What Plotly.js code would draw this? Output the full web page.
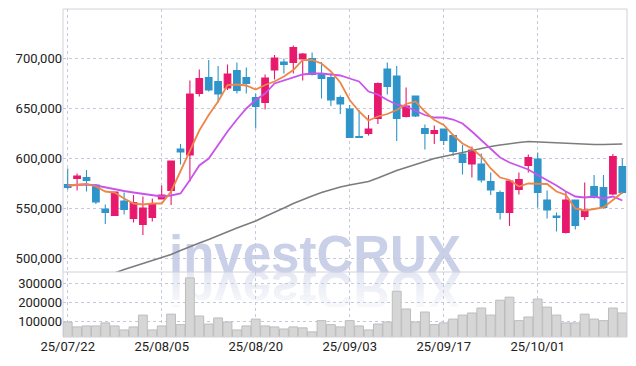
<!DOCTYPE html>
<html><head><meta charset="utf-8">
<script src="https://cdn.plot.ly/plotly-3.0.1.min.js"></script>
<style>
html,body{margin:0;padding:0;background:#fff;}
#wrap{position:relative;width:636px;height:366px;overflow:hidden;}
#chart{position:absolute;left:0;top:0;width:636px;height:366px;}
.wm{position:absolute;left:-3px;width:636px;text-align:center;font-family:"Liberation Sans",Arial,sans-serif;font-weight:bold;font-size:51px;line-height:35px;height:35px;color:#c9d0e7;white-space:nowrap;}
#wm1{top:237px;}
#wm2{top:272px;transform:scaleY(-1);opacity:0.5;-webkit-mask-image:linear-gradient(to top,rgba(0,0,0,1) 0%,rgba(0,0,0,0.25) 100%);}
</style></head>
<body>
<div id="wrap">
<div id="wm1" class="wm">investCRUX</div>
<div id="wm2" class="wm">investCRUX</div>
<div id="chart"></div>
</div>
<script>
const dates = ['25/07/22','25/07/23','25/07/24','25/07/25','25/07/28','25/07/29','25/07/30','25/07/31','25/08/01','25/08/04',
'25/08/05','25/08/06','25/08/07','25/08/08','25/08/11','25/08/12','25/08/13','25/08/14','25/08/18','25/08/19',
'25/08/20','25/08/21','25/08/22','25/08/25','25/08/26','25/08/27','25/08/28','25/08/29','25/09/01','25/09/02',
'25/09/03','25/09/04','25/09/05','25/09/08','25/09/09','25/09/10','25/09/11','25/09/12','25/09/15','25/09/16',
'25/09/17','25/09/18','25/09/19','25/09/22','25/09/23','25/09/24','25/09/25','25/09/26','25/09/29','25/09/30',
'25/10/01','25/10/02','25/10/10','25/10/13','25/10/14','25/10/15','25/10/16','25/10/17','25/10/20','25/10/21'];

const openP = [574000,580000,581000,573500,549500,543000,557500,540000,534000,541000,
559500,568000,609500,603500,665000,681000,677000,670500,688000,681000,
661000,656000,688500,696500,696000,699500,700000,685000,681000,661000,
649500,622000,625000,640000,689500,682500,642000,662500,630000,625000,
629500,623000,604500,594500,594500,577000,566000,546000,569000,593000,
599500,558500,542500,526000,558500,542000,572000,571000,564500,592000];
const highP = [590000,585000,588500,574500,554000,567000,566000,563500,562000,560000,
573000,598000,614500,678000,689000,698500,692500,694000,696000,691000,
665000,684000,703500,700000,713000,705500,706000,696500,685000,663000,
653500,648500,643500,676000,696000,692500,671000,663000,634000,633000,
630000,624000,613500,612000,605000,586000,568000,579000,586000,604000,
606000,568000,546000,567000,558500,576000,583500,583500,604500,600000];
const lowP = [569000,568000,567000,554500,534500,542500,544000,536000,523500,537000,
559000,553500,594000,577000,662000,667000,656000,668500,665000,665000,
630000,649000,679000,685000,685000,678000,683000,660000,652500,644500,
620500,620500,623000,634500,664000,617500,641000,641500,609000,614500,
613500,602500,584000,581000,576000,563500,539000,532500,564000,586000,
551000,540000,527000,525000,529000,538500,560000,550000,563500,564500];
const closeP = [571000,582500,578000,556500,546000,566500,549000,556000,550500,555000,
563500,597500,606500,664500,680000,668500,664500,684500,668000,675000,
652000,680500,700500,694000,711000,704500,684000,680000,658500,654500,
621000,621000,629500,675000,672000,640000,652500,642500,625000,628000,
618000,607000,596000,608500,578500,568500,546000,577500,579000,601000,
566000,548500,541000,558500,533000,548500,561000,551000,602000,566000];

const ma5 = [573000,574000,574500,572000,567000,566000,560000,555000,554000,555000,
555000,567000,587000,608500,628000,643500,657000,673500,674000,673000,
669000,673500,677000,682000,688500,698500,698500,695000,687000,676000,
658500,647000,638000,642000,644500,648500,654500,657000,647000,638500,
633500,623500,615000,610000,602000,590000,581000,578500,572000,575000,
575000,574500,567000,563500,550000,548000,549500,551000,558500,566000];
const ma20 = [573000,573500,574000,573000,571000,569000,567500,566000,564500,563000,
562000,563000,565000,578500,593000,600000,613500,627000,639000,650000,
658500,665000,675000,678000,681000,684000,685000,685000,684000,683000,
680000,677000,667000,664000,658500,654000,652000,648000,643500,641000,
641000,639000,635000,627000,618500,610000,601000,596000,592500,589000,
583500,578500,573000,567000,562000,561000,562000,560000,562000,558000];
const ma60 = [470000,473000,476000,479000,482000,485500,489000,492000,495000,498000,
501000,504000,508000,512000,515500,519000,523000,527000,530500,534000,
537500,542000,546000,550500,555000,559000,562500,566000,569000,571500,
573500,575500,577000,580500,584500,588000,591000,594000,597000,600000,
602000,604000,606000,608000,610500,612000,613500,615000,616000,617000,
616500,616000,616000,615500,615000,614500,614000,614000,614500,614500];

const volume = [97000,71000,76000,76000,92000,76000,55000,71000,133000,55000,
76000,138000,83000,328000,128000,86000,118000,97000,55000,76000,
112000,76000,71000,60000,71000,66000,45000,104000,83000,71000,
104000,76000,55000,86000,97000,258000,165000,97000,149000,83000,
92000,112000,133000,144000,170000,133000,211000,227000,104000,123000,
217000,175000,133000,92000,92000,138000,112000,104000,170000,144000];

const priceTicks = [500000,550000,600000,650000,700000];
const volTicks = [100000,200000,300000];
const xTickIdx = [0,10,20,30,40,50];

const RED = '#e8196c', BLUE = '#2f94c9';
const gridC = '#c6c8dc';
const fontF = 'Roboto, "Liberation Sans", Arial, sans-serif';
const split = 65/328;

const traces = [
  {type:'bar', x:dates, y:volume, xaxis:'x', yaxis:'y2',
   marker:{color:'#d6d6d6', line:{color:'#bdbdbd', width:1}}, hoverinfo:'skip'},
  {type:'candlestick', x:dates, open:openP, high:highP, low:lowP, close:closeP, xaxis:'x', yaxis:'y',
   increasing:{line:{color:RED, width:1.1}, fillcolor:RED},
   decreasing:{line:{color:BLUE, width:1.1}, fillcolor:BLUE},
   whiskerwidth:0},
  {type:'scatter', mode:'lines', x:dates, y:ma60, xaxis:'x', yaxis:'y', line:{color:'#7c7c7c', width:1.6}},
  {type:'scatter', mode:'lines', x:dates, y:ma20, xaxis:'x', yaxis:'y', line:{color:'#c953eb', width:1.8}},
  {type:'scatter', mode:'lines', x:dates, y:ma5, xaxis:'x', yaxis:'y', line:{color:'#ee8648', width:1.8}}
];

const layout = {
  width:636, height:366,
  margin:{l:63, r:9, t:9, b:29},
  paper_bgcolor:'rgba(0,0,0,0)', plot_bgcolor:'rgba(0,0,0,0)',
  showlegend:false,
  bargap:0.06,
  boxgap:0.12, boxgroupgap:0.2,
  font:{family:fontF, size:13, color:'#222'},
  xaxis:{type:'category', anchor:'y2', range:[-0.5,59.5], rangeslider:{visible:false},
    tickvals:xTickIdx.map(i=>dates[i]), ticktext:xTickIdx.map(i=>dates[i]),
    showgrid:true, gridcolor:gridC, griddash:'dot', gridwidth:1, ticks:'', zeroline:false,
    tickfont:{family:fontF, size:13, color:'#222'}},
  yaxis:{domain:[split,1], range:[486500,749500], tickvals:priceTicks, tickformat:',',
    showgrid:true, gridcolor:gridC, griddash:'dot', gridwidth:1, zeroline:false, ticks:'',
    tickfont:{family:fontF, size:13, color:'#222'}},
  yaxis2:{domain:[0,split], range:[18000,359000], tickvals:volTicks, tickformat:'d',
    showgrid:true, gridcolor:gridC, griddash:'dot', gridwidth:1, zeroline:false, ticks:'',
    tickfont:{family:fontF, size:13, color:'#222'}},
  shapes:[
    {type:'rect', xref:'paper', yref:'paper', x0:0, x1:1, y0:0, y1:1, line:{color:'#d2d2da', width:1}},
    {type:'line', xref:'paper', yref:'paper', x0:0, x1:1, y0:split, y1:split, line:{color:'#d2d2da', width:1}}
  ]
};

Plotly.newPlot('chart', traces, layout, {staticPlot:true, displayModeBar:false});
</script>
</body></html>
